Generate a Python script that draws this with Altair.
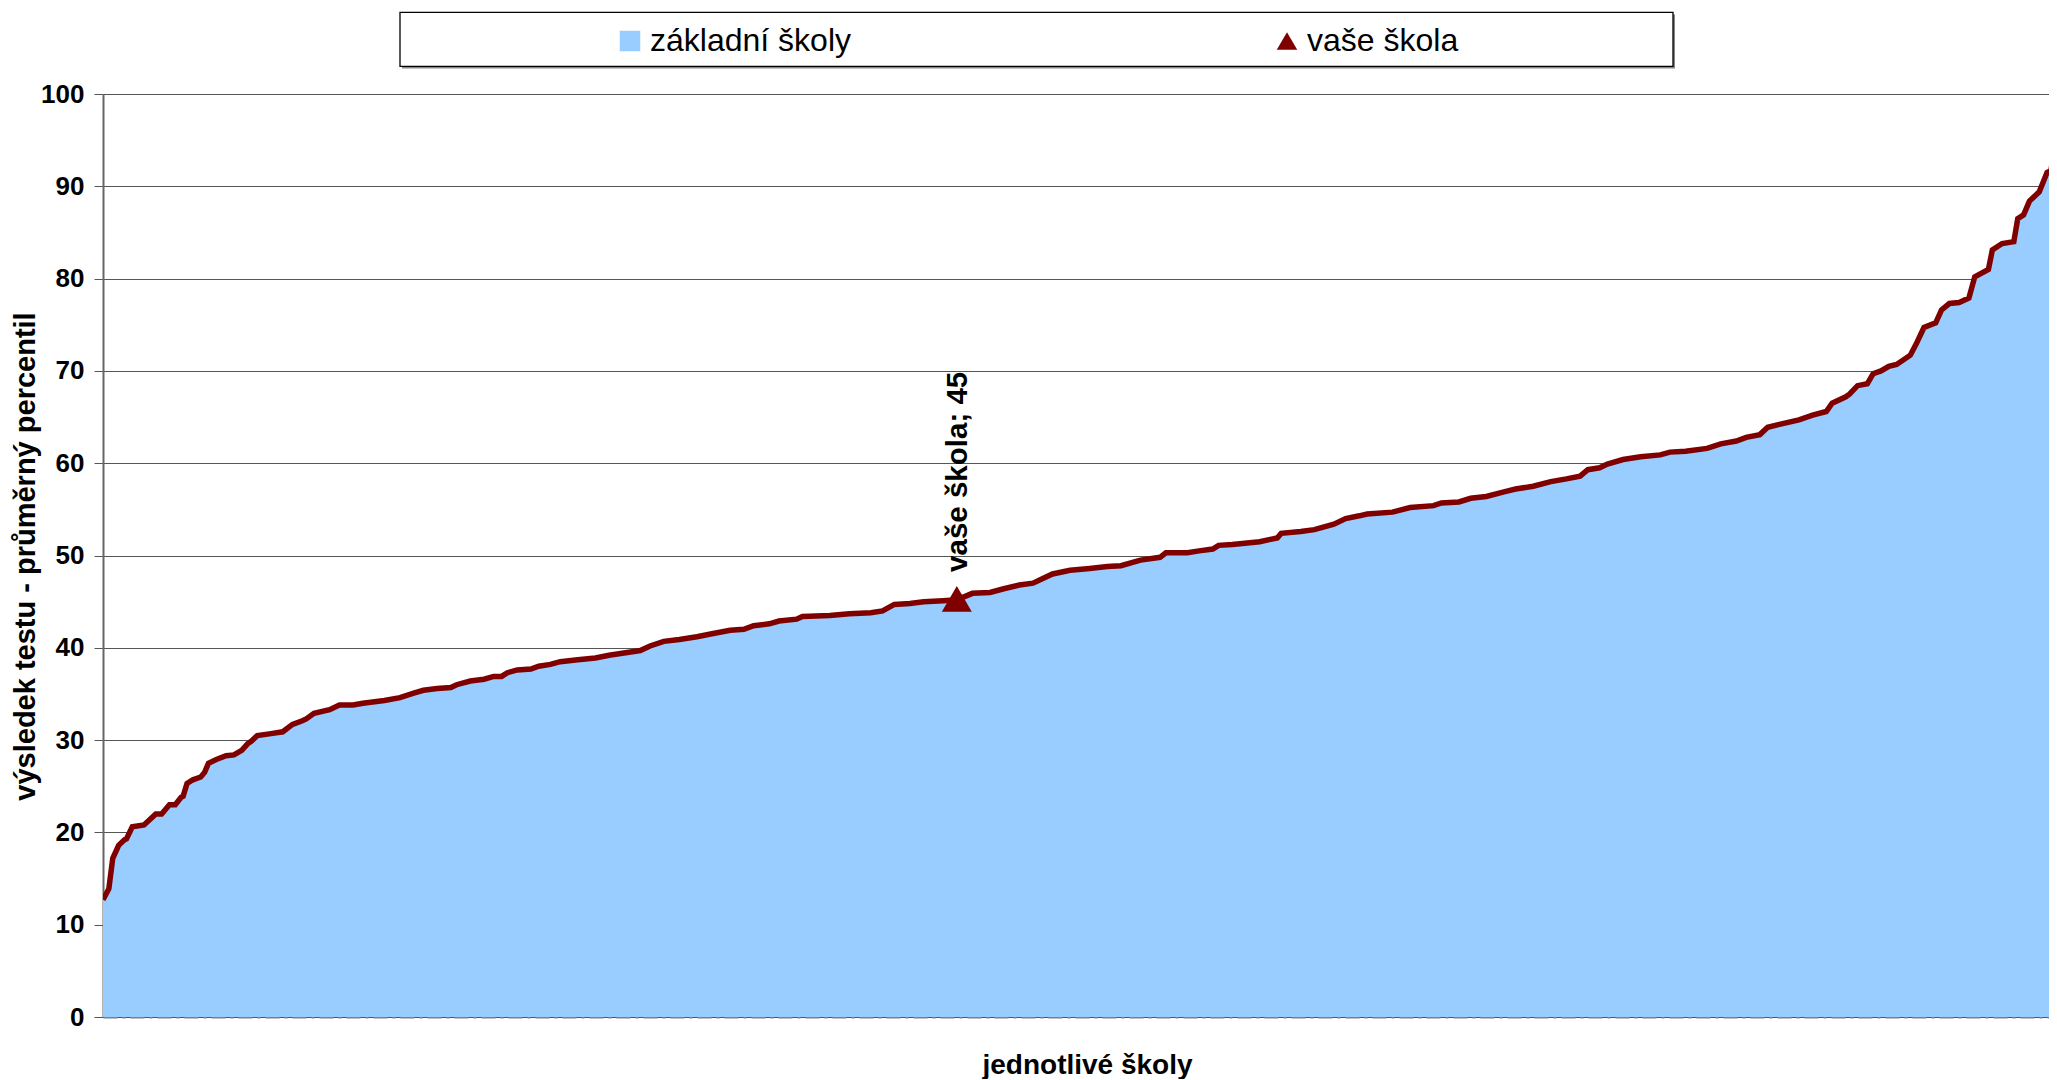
import altair as alt
import pandas as pd

# pořadí školy (v % všech škol) a výsledek
poradi = [0, 0.3, 0.5, 0.8, 1.1, 1.2, 1.5, 2.1, 2.7, 3.0,
          3.4, 3.7, 4.0, 4.1, 4.3, 4.6, 5.0, 5.2, 5.4, 5.8,
          6.3, 6.7, 7.1, 7.4, 7.6, 7.9, 8.6, 9.2, 9.7, 10.2,
          10.4, 10.8, 11.6, 12.1, 12.8, 13.3, 14.4, 15.2, 15.9, 16.4,
          17.1, 17.8, 18.1, 18.8, 19.5, 20.0, 20.4, 20.7, 21.2, 21.9,
          22.3, 22.9, 23.4, 24.3, 25.2, 25.9, 27.5, 28.0, 28.7, 29.5,
          30.4, 31.1, 32.1, 32.8, 33.3, 34.1, 34.6, 35.5, 35.8, 37.2,
          38.2, 39.3, 39.9, 40.5, 41.3, 42.0, 43.0, 43.7, 44.5, 45.4,
          46.1, 46.9, 47.6, 48.1, 48.6, 49.5, 50.5, 51.4, 52.1, 53.1,
          54.1, 54.4, 55.5, 56.1, 56.8, 57.1, 57.8, 59.2, 60.1, 60.3,
          61.3, 62.0, 63.0, 63.6, 64.3, 64.7, 66.0, 66.9, 68.1, 68.5,
          69.4, 70.0, 70.8, 71.7, 72.3, 73.2, 74.1, 74.9, 75.6, 76.0,
          76.6, 77.0, 77.8, 78.7, 79.7, 80.2, 81.0, 82.1, 82.8, 83.6,
          84.1, 84.8, 85.2, 85.8, 86.8, 87.5, 88.2, 88.5, 89.2, 89.4,
          89.8, 90.3, 90.6, 91.0, 91.4, 91.8, 92.5, 92.8, 93.2, 93.8,
          94.1, 94.5, 95.0, 95.5, 95.8, 96.5, 96.7, 97.2, 97.8, 98.0,
          98.3, 98.6, 99.1, 99.5, 99.7, 99.9, 100.0]

vysledek = [12.7, 13.9, 17.2, 18.6, 19.2, 19.3, 20.6, 20.8, 22.0, 22.0,
            23.0, 23.0, 23.8, 23.9, 25.3, 25.7, 26.0, 26.5, 27.5, 27.9,
            28.3, 28.4, 28.9, 29.6, 29.9, 30.5, 30.7, 30.9, 31.7, 32.1,
            32.3, 32.9, 33.3, 33.8, 33.8, 34.0, 34.3, 34.6, 35.1, 35.4,
            35.6, 35.7, 36.0, 36.4, 36.6, 36.9, 36.9, 37.3, 37.6, 37.7,
            38.0, 38.2, 38.5, 38.7, 38.9, 39.2, 39.7, 40.2, 40.7, 40.9,
            41.2, 41.5, 41.9, 42.0, 42.4, 42.6, 42.9, 43.1, 43.4, 43.5,
            43.7, 43.8, 44.0, 44.7, 44.8, 45.0, 45.1, 45.2, 45.9, 46.0,
            46.4, 46.8, 47.0, 47.5, 48.0, 48.4, 48.6, 48.8, 48.9, 49.5,
            49.8, 50.3, 50.3, 50.5, 50.7, 51.1, 51.2, 51.5, 51.9, 52.4,
            52.6, 52.8, 53.4, 54.0, 54.3, 54.5, 54.7, 55.2, 55.4, 55.7,
            55.8, 56.2, 56.4, 56.9, 57.2, 57.5, 58.0, 58.3, 58.6, 59.3,
            59.5, 59.9, 60.4, 60.7, 60.9, 61.2, 61.3, 61.6, 62.1, 62.4,
            62.8, 63.1, 63.9, 64.2, 64.7, 65.2, 65.6, 66.5, 67.2, 67.5,
            68.4, 68.6, 69.7, 70.0, 70.5, 70.7, 71.7, 72.9, 74.7, 75.2,
            76.6, 77.3, 77.4, 77.9, 80.2, 81.0, 83.1, 83.8, 84.0, 86.5,
            86.9, 88.4, 89.4, 91.5, 91.7, 94.4, 96.1]

skola_nazev = ["vaše škola"]
skola_poradi = [43.7]
skola_vysledek = [45.3]

serie = ["základní školy", "vaše škola"]
barvy = ["#99CCFF", "#800000"]
tvary = ["square", "triangle-up"]
y_hodnoty = [0, 10, 20, 30, 40, 50, 60, 70, 80, 90, 100]

FONT = "Liberation Sans"

df = pd.DataFrame({"poradi": poradi, "vysledek": vysledek})
skola = pd.DataFrame({"poradi": skola_poradi, "vysledek": skola_vysledek, "serie": skola_nazev})
skola["popisek"] = skola["serie"] + "; " + skola["vysledek"].round().astype(int).astype(str)
ramecek_data = pd.DataFrame({"k": [0]})

x_enc = alt.X(
    "poradi:Q",
    scale=alt.Scale(domain=[0, 99.6], nice=False, zero=False),
    axis=alt.Axis(
        title="jednotlivé školy", labels=False, ticks=False, grid=False,
        domainColor="#808080", domainWidth=2, domainDash=[14, 5, 3, 5],
        titleFont=FONT, titleFontSize=28, titleFontWeight="bold", titleColor="black",
        titleX=984, titleY=56, titleBaseline="alphabetic",
    ),
)
y_enc = alt.Y(
    "vysledek:Q",
    scale=alt.Scale(domain=[0, 100], nice=False),
    axis=alt.Axis(
        values=y_hodnoty, title="výsledek testu - průměrný percentil",
        labelFont=FONT, labelFontSize=26, labelFontWeight="bold", labelColor="black",
        labelPadding=10, tickSize=9, tickColor="#555555", tickWidth=1,
        domainColor="#666666", domainWidth=2,
        gridColor="#555555", gridWidth=1,
        titleFont=FONT, titleFontSize=29, titleFontWeight="bold", titleColor="black",
        titleAngle=270, titleX=-78, titleY=462, titleBaseline="middle", titleAlign="center",
    ),
)

legenda = alt.Legend(
    title=None, orient="none", legendX=511, legendY=-69, direction="horizontal",
    columns=2, columnPadding=420, symbolSize=420, labelOffset=4,
    labelFont=FONT, labelFontSize=32, labelColor="black", labelLimit=500,
    symbolOpacity=1, symbolStrokeWidth=0, padding=0,
)

stin = alt.Chart(ramecek_data).mark_rect(fill="#888888").encode(
    x=alt.value(299), x2=alt.value(1572), y=alt.value(-79.6), y2=alt.value(-25.6)
)
ramecek = alt.Chart(ramecek_data).mark_rect(fill="white", stroke="black", strokeWidth=1.3).encode(
    x=alt.value(297), x2=alt.value(1570), y=alt.value(-81.6), y2=alt.value(-27.6)
)

plocha = alt.Chart(df).mark_area(color="#99CCFF", opacity=1, clip=True).encode(x=x_enc, y=y_enc)
cara = alt.Chart(df).mark_line(color="#800000", strokeWidth=5.5, clip=True).encode(x=x_enc, y=y_enc)
bod = alt.Chart(skola).mark_point(filled=True, size=900, opacity=1).encode(
    x=x_enc, y=y_enc,
    color=alt.Color("serie:N", scale=alt.Scale(domain=serie, range=barvy), legend=legenda),
    shape=alt.Shape("serie:N", scale=alt.Scale(domain=serie, range=tvary), legend=legenda),
)
popisek = alt.Chart(skola).mark_text(
    angle=270, align="left", baseline="middle", dx=27, dy=1,
    font=FONT, fontSize=29.5, fontWeight="bold", color="black",
).encode(x=x_enc, y=y_enc, text="popisek:N")

chart = alt.layer(stin, ramecek, plocha, cara, bod, popisek).properties(
    width=1946, height=923,
    autosize=alt.AutoSizeParams(type="none"),
    padding={"left": 95, "top": 86, "right": 0, "bottom": 62},
    background="white",
).configure_view(strokeWidth=0)

chart.save("out.html", embed_options={"renderer": "svg", "actions": False})
